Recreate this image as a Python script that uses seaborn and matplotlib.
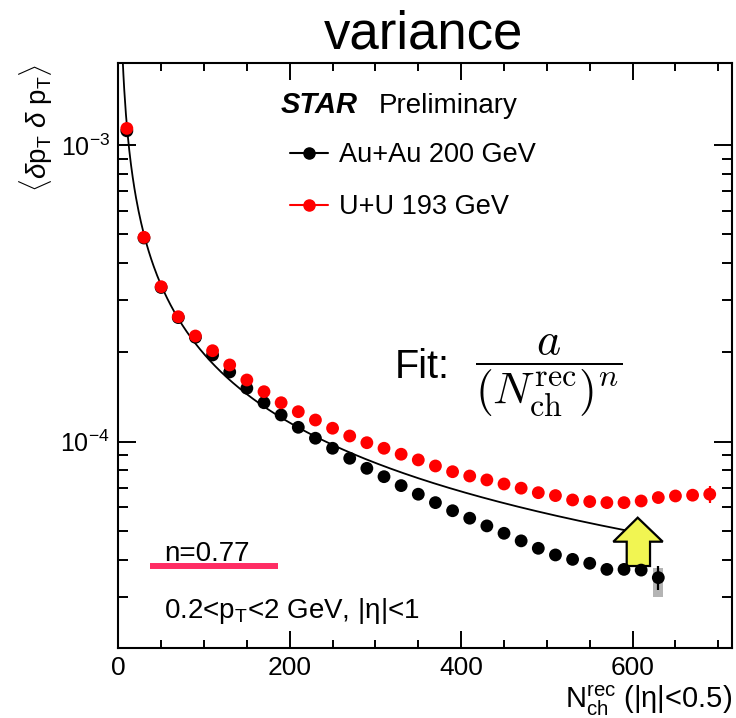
import numpy as np
import pandas as pd
import matplotlib
matplotlib.use("Agg")
import matplotlib.pyplot as plt
import seaborn as sns
from matplotlib.ticker import MultipleLocator, FixedLocator, LogLocator, NullFormatter, LogFormatterSciNotation
from matplotlib.patches import Polygon
from matplotlib.lines import Line2D

# ---------------- data ----------------
nch_auau = [10, 30, 50, 70, 90, 110, 130, 150, 170, 190, 210, 230, 250, 270, 290, 310,
            330, 350, 370, 390, 410, 430, 450, 470, 490, 510, 530, 550, 570, 590, 610, 630]
var_auau = [1.117e-3, 4.86e-4, 3.31e-4, 2.62e-4, 2.248e-4, 1.96e-4, 1.718e-4, 1.514e-4,
            1.353e-4, 1.230e-4, 1.118e-4, 1.027e-4, 0.950e-4, 0.879e-4, 0.813e-4, 0.762e-4,
            0.711e-4, 0.665e-4, 0.623e-4, 0.585e-4, 0.552e-4, 0.520e-4, 0.491e-4, 0.463e-4,
            0.437e-4, 0.415e-4, 0.401e-4, 0.389e-4, 0.371e-4, 0.371e-4, 0.369e-4, 0.348e-4]

nch_uu = [10, 30, 50, 70, 90, 110, 130, 150, 170, 190, 210, 230, 250, 270, 290, 310, 330,
          350, 370, 390, 410, 430, 450, 470, 490, 510, 530, 550, 570, 590, 610, 630, 650,
          670, 690]
var_uu = [1.138e-3, 4.886e-4, 3.33e-4, 2.638e-4, 2.271e-4, 2.026e-4, 1.814e-4, 1.614e-4,
          1.474e-4, 1.353e-4, 1.262e-4, 1.183e-4, 1.110e-4, 1.045e-4, 0.992e-4, 0.950e-4,
          0.907e-4, 0.868e-4, 0.828e-4, 0.792e-4, 0.766e-4, 0.743e-4, 0.720e-4, 0.697e-4,
          0.673e-4, 0.658e-4, 0.636e-4, 0.628e-4, 0.623e-4, 0.623e-4, 0.631e-4, 0.648e-4,
          0.656e-4, 0.660e-4, 0.665e-4]

# errors shown only on the last points
auau_last_stat = 3.2e-6
auau_last_sys_lo = 3.0e-5
auau_last_sys_hi = 3.75e-5
uu_last_stat = 4.4e-6

# power-law fit a / N^n
fit_a = 6.85e-3
fit_n = 0.77
fit_nmin, fit_nmax = 4.0, 593.0

x_ticks = [0, 200, 400, 600]

# ---------------- style ----------------
sns.set_style("ticks")
plt.rcParams["font.family"] = ["Liberation Sans", "DejaVu Sans"]
plt.rcParams["mathtext.fontset"] = "custom"
plt.rcParams["mathtext.rm"] = "Liberation Sans"
plt.rcParams["mathtext.it"] = "Liberation Sans:italic"
plt.rcParams["mathtext.bf"] = "Liberation Sans:bold"
for k in ["text.color", "axes.labelcolor", "xtick.color", "ytick.color",
          "xtick.labelcolor", "ytick.labelcolor", "axes.edgecolor"]:
    plt.rcParams[k] = "black"

fig = plt.figure(figsize=(7.36, 7.18), dpi=100)
fig.patch.set_facecolor("white")
ax = fig.add_axes([0.1607, 0.0979, 0.8339, 0.8139])
ax.set_facecolor("white")

df_au = pd.DataFrame({"nch": nch_auau, "var": var_auau})
df_uu = pd.DataFrame({"nch": nch_uu, "var": var_uu})

# fit curve
xf = np.linspace(fit_nmin, fit_nmax, 600)
df_fit = pd.DataFrame({"nch": xf, "var": fit_a / xf ** fit_n})
sns.lineplot(data=df_fit, x="nch", y="var", color="black", lw=1.3, ax=ax, zorder=2)

# systematic box for last Au+Au point
ax.bar([nch_auau[-1]], [auau_last_sys_hi - auau_last_sys_lo], bottom=[auau_last_sys_lo],
       width=12, color="#b4b4b4", zorder=2.5, linewidth=0)

# yellow arrow (annotation)
arrow = Polygon([(0.8463, 0.2225), (0.8871, 0.1814), (0.8664, 0.1814), (0.8664, 0.1398),
                 (0.8284, 0.1398), (0.8284, 0.1814), (0.8066, 0.1814)],
                closed=True, transform=ax.transAxes, facecolor="#f1f552",
                edgecolor="black", lw=1.6, zorder=3)
ax.add_patch(arrow)

sns.scatterplot(data=df_au, x="nch", y="var", color="black", s=85, edgecolor="none",
                ax=ax, zorder=4)
sns.scatterplot(data=df_uu, x="nch", y="var", color="red", s=85, edgecolor="none",
                ax=ax, zorder=5)

ax.errorbar([nch_auau[-1]], [var_auau[-1]], yerr=[auau_last_stat], fmt="none",
            ecolor="black", elinewidth=1.6, capsize=0, zorder=4)
ax.errorbar([nch_uu[-1]], [var_uu[-1]], yerr=[uu_last_stat], fmt="none",
            ecolor="red", elinewidth=1.6, capsize=0, zorder=5)

# ---------------- axes ----------------
ax.set_yscale("log")
ax.set_xlim(0, 716)
ax.set_ylim(2.02e-5, 1.886e-3)
ax.xaxis.set_major_locator(FixedLocator(x_ticks))
ax.xaxis.set_minor_locator(MultipleLocator(50))
ax.yaxis.set_major_locator(LogLocator(base=10))
ax.yaxis.set_minor_locator(LogLocator(base=10, subs=np.arange(2, 10)))
ax.yaxis.set_minor_formatter(NullFormatter())
ax.yaxis.set_major_formatter(LogFormatterSciNotation())

for sp in ax.spines.values():
    sp.set_visible(True)
    sp.set_linewidth(1.5)
    sp.set_color("black")

ax.tick_params(which="both", direction="in", top=True, right=True, width=1.4, colors="black")
ax.tick_params(axis="x", which="major", length=12, labelsize=19, pad=6)
ax.tick_params(axis="x", which="minor", length=5.8)
ax.tick_params(axis="y", which="major", length=13, labelsize=18, pad=6)
ax.tick_params(axis="y", which="minor", length=7)

ax.set_ylabel(r"$\langle\delta\mathrm{p}_{\mathrm{T}}\ \delta\ \mathrm{p}_{\mathrm{T}}\rangle$",
              fontsize=20, loc="top", color="black")
ax.yaxis.set_label_coords(-0.103, 1.0)
ax.set_xlabel(r"$\mathrm{N}_{\mathrm{ch}}^{\mathrm{rec}}$ (|η|<0.5)", fontsize=21, loc="right",
              color="black")
ax.xaxis.set_label_coords(1.0, -0.062)

# ---------------- texts ----------------
fig.text(0.576, 0.9327, "variance", fontsize=38, ha="center", va="baseline", color="black")

ax.text(0.2647, 0.9144, "STAR", transform=ax.transAxes, fontsize=21, fontweight="bold",
        style="italic", va="baseline", color="black")
ax.text(0.4248, 0.9144, "Preliminary", transform=ax.transAxes, fontsize=20, va="baseline",
        color="black")

handles = [Line2D([], [], color="black", marker="o", markersize=8, lw=1.5),
           Line2D([], [], color="red", marker="o", markersize=8, lw=1.5)]
leg = ax.legend(handles, ["Au+Au 200 GeV", "U+U 193 GeV"], loc="center left",
                bbox_to_anchor=(0.2797, 0.7984), frameon=False, fontsize=19.5,
                handlelength=1.41, handletextpad=0.4, labelspacing=0.96,
                borderpad=0, borderaxespad=0)
for t in leg.get_texts():
    t.set_color("black")

ax.text(0.4509, 0.4615, "Fit:", transform=ax.transAxes, fontsize=28.5, va="baseline",
        color="black")
ax.text(0.582, 0.466, r"$\dfrac{a}{(N_{\mathrm{ch}}^{\mathrm{rec}})^{n}}$",
        transform=ax.transAxes, fontsize=33, va="center", ha="left", math_fontfamily="cm",
        color="black")

ax.text(0.075, 0.1489, "n=0.77", transform=ax.transAxes, fontsize=20, va="baseline",
        color="black")
ax.plot([0.0517, 0.2607], [0.1403, 0.1403], transform=ax.transAxes, color="#ff2d64",
        lw=4.3, solid_capstyle="butt", zorder=6)
ax.text(0.0745, 0.0508, r"0.2<$\mathrm{p}_{\mathrm{T}}$<2 GeV, |η|<1", transform=ax.transAxes,
        fontsize=20, va="baseline", color="black")

fig.savefig("out.png", dpi=100, facecolor="white")
